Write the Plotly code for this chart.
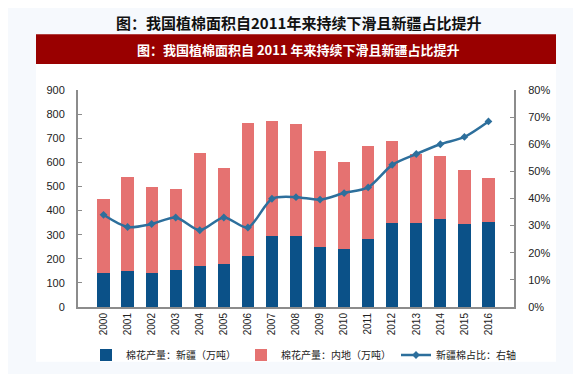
import plotly.graph_objects as go

years = [str(y) for y in range(2000, 2017)]
xinjiang = [143, 150, 143, 154, 168, 180, 211, 296, 296, 248, 241, 284, 347, 347, 365, 343, 351]
total = [448, 539, 497, 488, 637, 577, 762, 770, 758, 646, 603, 668, 690, 636, 625, 569, 536]
inland = [t - x for t, x in zip(total, xinjiang)]
share = [34.0, 29.5, 30.6, 33.0, 28.3, 33.0, 29.3, 39.9, 40.5, 39.6, 42.0, 44.1, 52.4, 56.4, 60.0, 62.7, 68.4]

name_xj = "棉花产量：新疆（万吨）"
name_in = "棉花产量：内地（万吨）"
name_sh = "新疆棉占比：右轴"
title_top = "图：我国植棉面积自2011年来持续下滑且新疆占比提升"
title_banner = "图：我国植棉面积自 2011 年来持续下滑且新疆占比提升"

L, R, T, B = 70, 75, 82, 66
W, H = 581, 374
pw, ph = W - L - R, H - T - B

def px(x):
    return (x - L) / pw

def py(y):
    return (H - B - y) / ph

fig = go.Figure()
fig.add_trace(go.Bar(x=years, y=xinjiang, name=name_xj, marker_color="#0b5188",
                     marker_line_width=0))
fig.add_trace(go.Bar(x=years, y=inland, name=name_in, marker_color="#e57271",
                     marker_line_width=0))
fig.add_trace(go.Scatter(x=years, y=share, name=name_sh, yaxis="y2", mode="lines+markers",
                         line=dict(color="#2d6f9c", width=2.5, shape="spline", smoothing=0.8),
                         marker=dict(symbol="diamond", size=6, color="#2d6f9c")))

axis_col = "#8c8c8c"
fig.update_layout(
    width=W, height=H,
    margin=dict(l=L, r=R, t=T, b=B),
    paper_bgcolor="#f6f9fd",
    plot_bgcolor="white",
    barmode="stack",
    bargap=0.49,
    font=dict(family="Liberation Sans, Arial, sans-serif", size=11, color="#222"),
    xaxis=dict(type="category", tickangle=-90, showline=True, linecolor=axis_col, linewidth=2,
               ticks="", tickfont=dict(size=10), showgrid=False),
    yaxis=dict(range=[0, 900], dtick=100, showline=True, linecolor=axis_col, linewidth=2,
               ticks="inside", ticklen=4, tickcolor=axis_col, showgrid=False, zeroline=False,
               tickfont=dict(size=11), ticklabelstandoff=9),
    yaxis2=dict(range=[0, 80], dtick=10, ticksuffix="%", overlaying="y", side="right",
                showline=True, linecolor=axis_col, linewidth=2, ticks="inside", ticklen=4,
                tickcolor=axis_col, showgrid=False, zeroline=False, tickfont=dict(size=11),
                ticklabelstandoff=10),
    legend=dict(orientation="h", x=px(78), xanchor="left", y=py(358), yanchor="middle",
                traceorder="normal",
                font=dict(size=10, family="Noto Sans CJK SC"), bgcolor="rgba(0,0,0,0)",
                itemwidth=30, tracegroupgap=0),
    showlegend=True,
)

fig.add_shape(type="rect", xref="paper", yref="paper", x0=px(28), x1=px(548), y0=py(365), y1=py(55),
              fillcolor="white", line_width=0, layer="below")
fig.add_shape(type="rect", xref="paper", yref="paper", x0=px(28), x1=px(548), y0=py(55), y1=py(24),
              fillcolor="#990000", line_width=0, layer="below")

fig.add_annotation(text="<b>" + title_top + "</b>", xref="paper", yref="paper", x=px(290), y=py(12),
                   showarrow=False, font=dict(family="Noto Sans CJK SC", size=15, color="#111"),
                   xanchor="center", yanchor="middle")
fig.add_annotation(text="<b>" + title_banner + "</b>", xref="paper", yref="paper", x=px(290), y=py(40),
                   showarrow=False, font=dict(family="Noto Sans CJK SC", size=13, color="white"),
                   xanchor="center", yanchor="middle")

fig.write_html("out.html")
